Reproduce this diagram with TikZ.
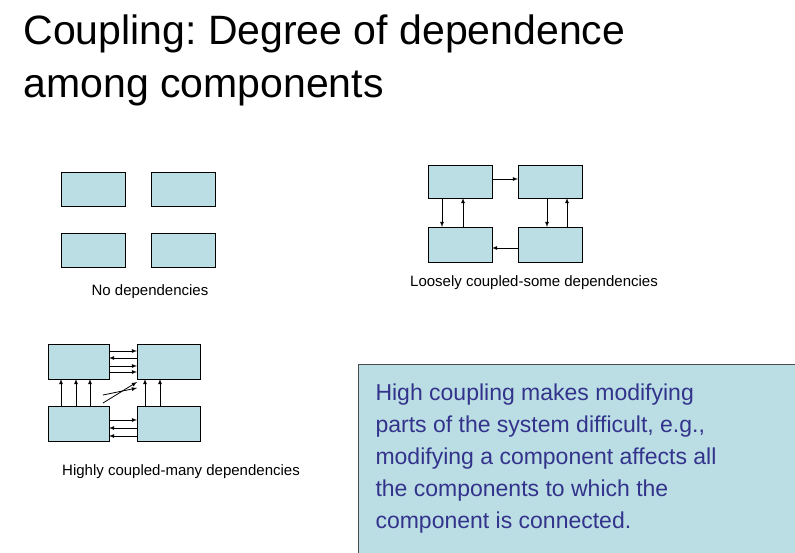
\documentclass[tikz,border=0pt]{standalone}
\usepackage{fontspec}
\setmainfont{Liberation Sans}
\begin{document}
\begin{tikzpicture}[x=1pt,y=-1pt,>=latex]
  % colors
  \definecolor{kBox}{rgb}{0.73,0.87,0.89}
  \definecolor{kText}{rgb}{0.2,0.2,0.55}
  \tikzset{comp/.style={draw=black,fill=kBox,line width=0.8pt},
    dep/.style={->,line width=0.8pt},
    lbl/.style={font=\fontsize{15}{18}\selectfont,anchor=base}}
  \useasboundingbox (0,0) rectangle (795,553);
  % title
  \node[anchor=base west,font=\fontsize{41}{52}\selectfont,align=left] (title) at (20,45) {Coupling:\ Degree\ of\ dependence};
  \node[anchor=base west,font=\fontsize{41}{52}\selectfont] (title2) at (20,98) {among\ components};

  % no dependencies
  \foreach \x/\y/\n in {61/172/a,151/172/b,61/233/c,151/233/d} {
    \draw[comp] (\x,\y) rectangle ++(64,34);
  };
  \node[lbl] (nolbl) at (150,296) {No dependencies};

  % loosely coupled
  \draw[comp] (428,165) rectangle (492,198);
  \draw[comp] (518,165) rectangle (582,198);
  \draw[comp] (428,227) rectangle (492,262);
  \draw[comp] (518,227) rectangle (582,262);
  \draw[dep] (492,179) -- (518,179);
  \draw[dep] (518,248) -- (492,248);
  \foreach \x/\a/\b in {442/198/227,463/227/198,547/198/227,567/227/198} {
    \draw[dep] (\x,\a) -- (\x,\b);
  };
  \node[lbl] (looselbl) at (534,287) {Loosely coupled-some dependencies};

  % highly coupled
  \draw[comp] (48,344) rectangle (109,379);
  \draw[comp] (137,344) rectangle (200,379);
  \draw[comp] (48,406) rectangle (109,441);
  \draw[comp] (137,406) rectangle (200,441);
  \foreach \y/\a/\b in {351/109/137,358/137/109,366/109/137,372/109/137,
                        420/109/137,428/137/109,436/137/109} {
    \draw[dep] (\a,\y) -- (\b,\y);
  };
  \foreach \x/\a/\b in {61/406/379,76/406/379,90/406/379,145/406/379,160/406/379} {
    \draw[dep] (\x,\a) -- (\x,\b);
  };
  \draw[dep] (103,403) -- (137,382);
  \draw[dep] (103,395) -- (137,388);
  \node[lbl] (highlbl) at (181,475) {Highly coupled-many dependencies};

  % note
  \draw[draw=black!70,fill=kBox,line width=0.8pt] (358,364) rectangle (796,554);
  \node[anchor=north west,text=kText,align=left,
    font=\fontsize{23}{32}\selectfont] (note) at (372,380)
    {High coupling makes modifying\\parts of the system difficult, e.g.,\\modifying a component affects all\\the components to which the\\component is connected.};
\end{tikzpicture}
\end{document}
